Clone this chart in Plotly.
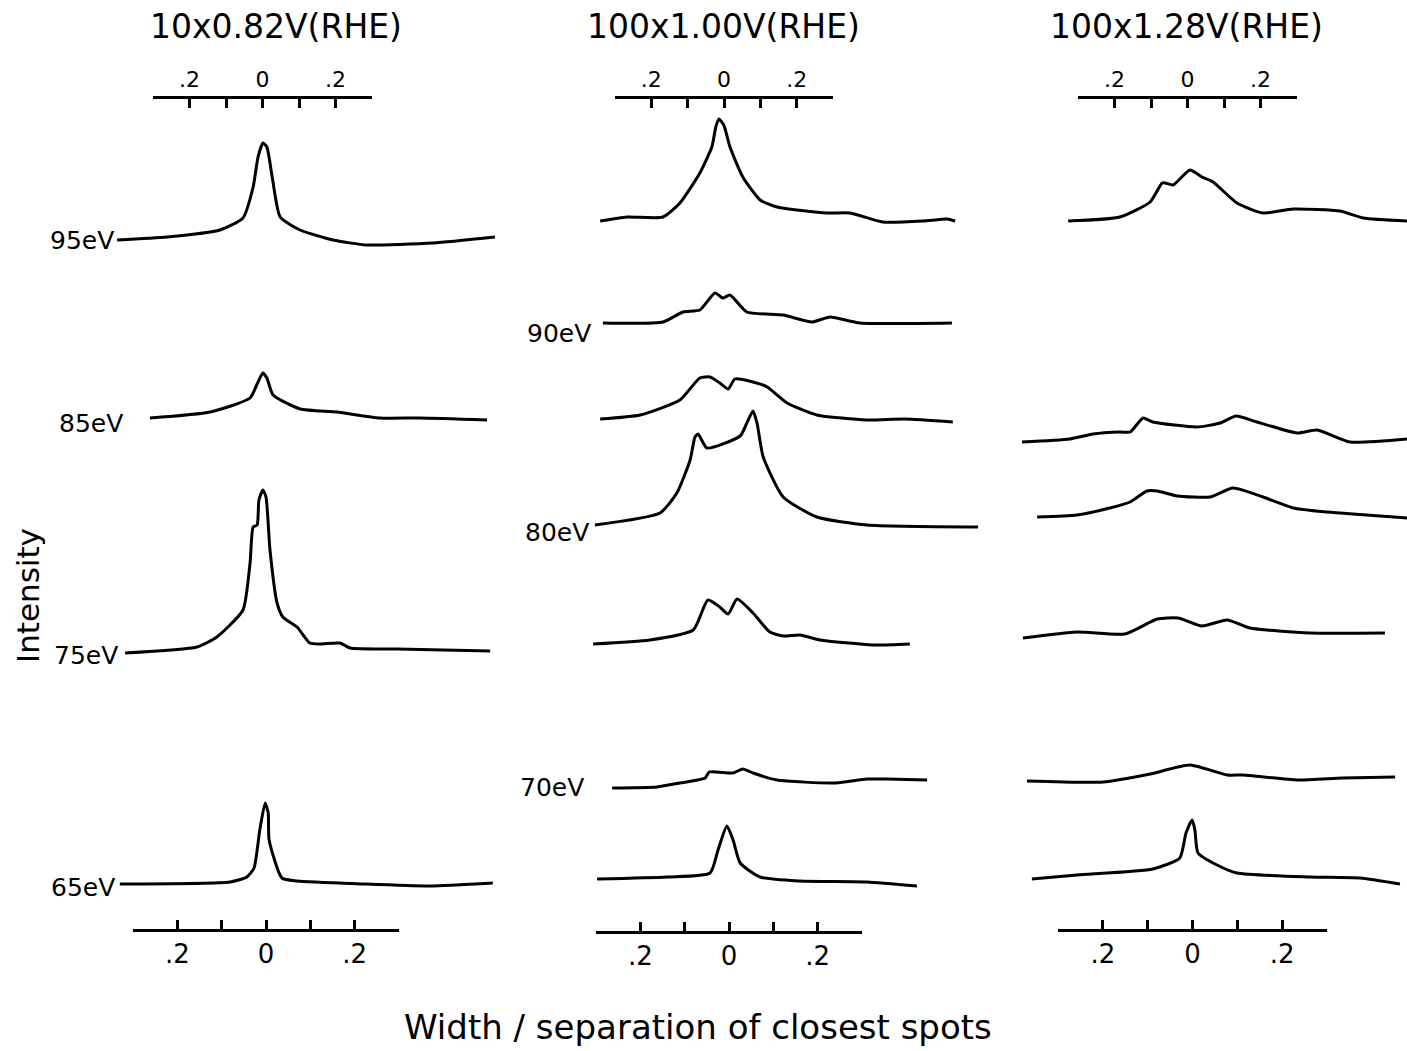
import plotly.graph_objects as go

# ---------------- data ----------------
titles = ["10x0.82V(RHE)", "100x1.00V(RHE)", "100x1.28V(RHE)"]
x_title = "Width / separation of closest spots"
y_title = "Intensity"

scale_ticks = [-0.3, -0.2, -0.1, 0.0, 0.1, 0.2, 0.3]
scale_ticktext = ["", ".2", "", "0", "", ".2", ""]

# ---- column 1 : 10x0.82V(RHE) ----
c1_labels = ["95eV", "85eV", "75eV", "65eV"]
c1_offsets = [809, 631, 398, 167]

c1_95_w = [-0.336, -0.223, -0.104, -0.052, -0.029, -0.018, -0.007, 0.002, 0.014, 0.032, 0.077, 0.151, 0.228, 0.377, 0.517]
c1_95_i = [2, 5, 12, 24, 55, 85, 99, 95, 65, 25, 12, 2, -3, -1, 5]

c1_85_w = [-0.262, -0.126, -0.036, -0.018, -0.007, 0.002, 0.016, 0.077, 0.160, 0.257, 0.348, 0.499]
c1_85_i = [2, 8, 22, 38, 47, 42, 25, 11, 8, 2, 2, 0]

c1_75_w = [-0.318, -0.156, -0.111, -0.052, -0.036, -0.029, -0.020, -0.016, -0.007, 0.000, 0.009, 0.025, 0.038,
           0.070, 0.099, 0.122, 0.167, 0.190, 0.296, 0.506]
c1_75_i = [0, 6, 16, 43, 90, 126, 128, 153, 163, 156, 103, 50, 36, 26, 10, 9, 10, 5, 4, 2]

c1_65_w = [-0.330, -0.081, -0.043, -0.027, -0.014, -0.002, 0.005, 0.007, 0.036, 0.070, 0.219, 0.370, 0.512]
c1_65_i = [0, 2, 7, 16, 54, 81, 71, 44, 6, 3, 0, -2, 1]

# ---- column 2 : 100x1.00V(RHE) ----
c2_labels = ["90eV", "80eV", "70eV"]
c2_offsets = [830, 728, 631, 526, 407, 263, 172]

c2_a_w = [-0.284, -0.223, -0.142, -0.104, -0.059, -0.032, -0.023, -0.016, -0.005, 0.009, 0.038, 0.077, 0.115,
          0.228, 0.280, 0.354, 0.445, 0.499, 0.517]
c2_a_i = [0, 4, 4, 18, 48, 74, 94, 102, 96, 74, 44, 21, 14, 8, 8, -1, 0, 2, 0]

c2_90_w = [-0.278, -0.142, -0.097, -0.059, -0.025, -0.007, 0.009, 0.047, 0.129, 0.194, 0.235, 0.302, 0.510]
c2_90_i = [0, 1, 11, 13, 30, 25, 28, 11, 8, 1, 6, 0, 0]

c2_c_w = [-0.284, -0.194, -0.104, -0.059, -0.036, -0.014, 0.005, 0.020, 0.061, 0.093, 0.138, 0.205, 0.318, 0.404, 0.512]
c2_c_i = [1, 5, 20, 42, 43, 37, 31, 41, 38, 33, 17, 5, 0, 1, -2]

c2_80_w = [-0.296, -0.149, -0.111, -0.081, -0.070, -0.063, -0.043, 0.032, 0.047, 0.061, 0.070, 0.084, 0.129,
           0.205, 0.318, 0.569]
c2_80_i = [0, 12, 32, 65, 88, 91, 77, 89, 102, 114, 102, 68, 28, 8, 0, -2]

c2_e_w = [-0.300, -0.172, -0.074, -0.041, -0.014, 0.005, 0.025, 0.061, 0.099, 0.129, 0.167, 0.212, 0.332, 0.415]
c2_e_i = [0, 4, 14, 44, 37, 30, 45, 31, 12, 8, 9, 4, -1, 0]

c2_70_w = [-0.257, -0.156, -0.104, -0.047, -0.038, 0.016, 0.038, 0.061, 0.115, 0.242, 0.318, 0.363, 0.454]
c2_70_i = [0, 1, 5, 10, 16, 15, 19, 15, 8, 5, 9, 9, 8]

c2_g_w = [-0.291, -0.133, -0.036, -0.018, 0.002, 0.016, 0.032, 0.077, 0.167, 0.318, 0.431]
c2_g_i = [0, 2, 6, 29, 53, 39, 16, 2, -2, -3, -7]

# ---- column 3 : 100x1.28V(RHE) ----
c3_offsets = [830, 609, 534, 414, 270, 172]

c3_a_w = [-0.275, -0.158, -0.090, -0.063, -0.056, -0.038, 0.000, 0.027, 0.052, 0.106, 0.165, 0.233, 0.339, 0.391, 0.490]
c3_a_i = [0, 4, 19, 38, 38, 36, 51, 44, 39, 18, 8, 12, 10, 3, 0]

c3_b_w = [-0.379, -0.271, -0.219, -0.158, -0.135, -0.106, -0.084, 0.016, 0.068, 0.104, 0.151, 0.242, 0.287, 0.361, 0.490]
c3_b_i = [0, 3, 8, 10, 10, 24, 20, 15, 19, 26, 20, 9, 12, 0, 3]

c3_c_w = [-0.345, -0.255, -0.181, -0.135, -0.097, -0.074, -0.029, 0.045, 0.097, 0.165, 0.233, 0.309, 0.490]
c3_c_i = [0, 2, 9, 15, 26, 26, 21, 20, 29, 20, 9, 5, -1]

c3_d_w = [-0.377, -0.255, -0.147, -0.074, -0.027, 0.027, 0.084, 0.135, 0.271, 0.440]
c3_d_i = [-1, 5, 3, 18, 19, 11, 17, 9, 4, 4]

c3_e_w = [-0.368, -0.196, -0.090, 0.000, 0.084, 0.120, 0.242, 0.345, 0.463]
c3_e_i = [0, -1, 7, 16, 6, 6, 1, 3, 4]

c3_f_w = [-0.357, -0.255, -0.084, -0.023, -0.009, 0.005, 0.011, 0.018, 0.061, 0.106, 0.271, 0.384, 0.474]
c3_f_i = [0, 4, 10, 21, 46, 59, 49, 26, 14, 6, 2, 1, -5]

columns = [
    (c1_offsets, [(c1_95_w, c1_95_i), (c1_85_w, c1_85_i), (c1_75_w, c1_75_i), (c1_65_w, c1_65_i)]),
    (c2_offsets, [(c2_a_w, c2_a_i), (c2_90_w, c2_90_i), (c2_c_w, c2_c_i), (c2_80_w, c2_80_i),
                  (c2_e_w, c2_e_i), (c2_70_w, c2_70_i), (c2_g_w, c2_g_i)]),
    (c3_offsets, [(c3_a_w, c3_a_i), (c3_b_w, c3_b_i), (c3_c_w, c3_c_i), (c3_d_w, c3_d_i),
                  (c3_e_w, c3_e_i), (c3_f_w, c3_f_i)]),
]

# ---------------- layout geometry (pixels) ----------------
W, H = 1407, 1051
PX_PER_UNIT = 443.0
FONT = "DejaVu Sans"


def fx(px):
    return px / W


def fy(py):
    return 1 - py / H


curve_cols = [(100, 510, 266), (580, 990, 726), (1010, 1407, 1190)]
top_bars = [(153, 372, 97), (615, 833, 97), (1078, 1297, 97)]
bottom_bars = [(133, 399, 930), (596, 862, 932), (1058, 1327, 930)]
title_pos = [(276, 27), (723, 27), (1186, 27)]
c1_label_pos = [(116, 241), (125, 423), (120, 655), (117, 887)]
c2_label_pos = [(593, 333), (591, 532), (586, 787)]

fig = go.Figure()
layout_axes = {}

for ci, ((left, right, zero), (offsets, curves)) in enumerate(zip(curve_cols, columns)):
    n = ci + 1
    xname = "x" if n == 1 else f"x{n}"
    lname = "xaxis" if n == 1 else f"xaxis{n}"
    layout_axes[lname] = dict(
        domain=[fx(left), fx(right)],
        range=[(left - zero) / PX_PER_UNIT, (right - zero) / PX_PER_UNIT],
        anchor="y", visible=False, showgrid=False, zeroline=False, fixedrange=True,
    )
    for off, (w, inten) in zip(offsets, curves):
        fig.add_trace(go.Scatter(
            x=w, y=[off + v for v in inten], xaxis=xname, yaxis="y",
            mode="lines", line=dict(color="black", width=3, shape="spline", smoothing=0.55),
            showlegend=False, hoverinfo="skip",
        ))

ax_n = 4
for bars, side, fsize in [(top_bars, "top", 22), (bottom_bars, "bottom", 26)]:
    for (l, r, y) in bars:
        lname = f"xaxis{ax_n}"
        layout_axes[lname] = dict(
            domain=[fx(l), fx(r)], range=[-0.3, 0.3], anchor="free", position=fy(y), side=side,
            showline=True, linecolor="black", linewidth=2.5,
            ticks="inside", ticklen=9, tickwidth=2.5, tickcolor="black",
            tickmode="array", tickvals=scale_ticks, ticktext=scale_ticktext,
            tickfont=dict(family=FONT, size=fsize, color="black"),
            showgrid=False, zeroline=False, fixedrange=True,
        )
        fig.add_trace(go.Scatter(
            x=scale_ticks, y=[None] * len(scale_ticks), xaxis=f"x{ax_n}", yaxis="y",
            mode="lines", showlegend=False, hoverinfo="skip",
        ))
        ax_n += 1

annotations = []
for t, (px, py) in zip(titles, title_pos):
    annotations.append(dict(text=t, x=fx(px), y=fy(py), xref="paper", yref="paper",
                            showarrow=False, xanchor="center", yanchor="middle",
                            font=dict(family=FONT, size=33, color="black")))
for lab, (px, py) in list(zip(c1_labels, c1_label_pos)) + list(zip(c2_labels, c2_label_pos)):
    annotations.append(dict(text=lab, x=fx(px), y=fy(py), xref="paper", yref="paper",
                            showarrow=False, xanchor="right", yanchor="middle",
                            font=dict(family=FONT, size=25, color="black")))
annotations.append(dict(text=y_title, x=fx(28), y=fy(596), xref="paper", yref="paper",
                        showarrow=False, textangle=-90, xanchor="center", yanchor="middle",
                        font=dict(family=FONT, size=31, color="black")))
annotations.append(dict(text=x_title, x=fx(698), y=fy(1027), xref="paper", yref="paper",
                        showarrow=False, xanchor="center", yanchor="middle",
                        font=dict(family=FONT, size=34, color="black")))

fig.update_layout(
    width=W, height=H,
    margin=dict(l=0, r=0, t=0, b=0),
    paper_bgcolor="white", plot_bgcolor="rgba(0,0,0,0)",
    showlegend=False,
    yaxis=dict(domain=[0, 1], range=[0, H], visible=False, showgrid=False,
               zeroline=False, fixedrange=True),
    annotations=annotations,
    **layout_axes,
)

fig.write_html("out.html")
